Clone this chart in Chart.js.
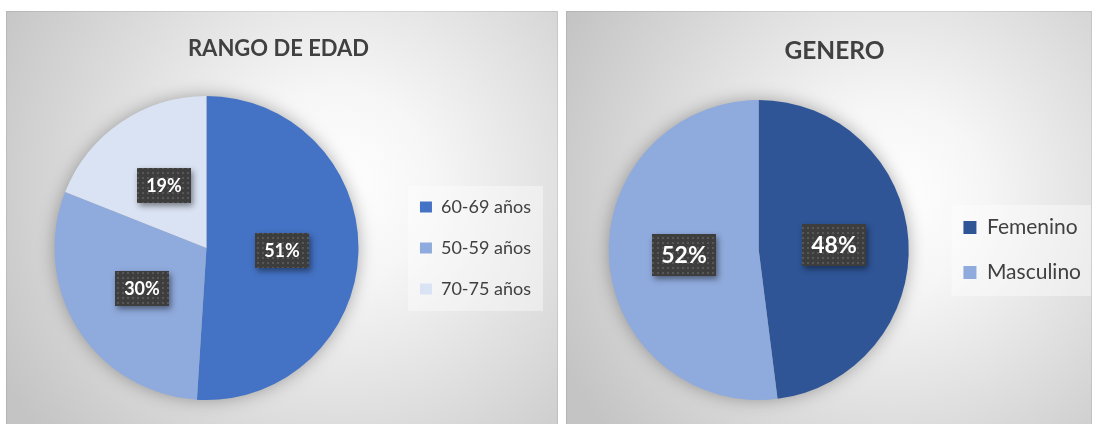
<!DOCTYPE html>
<html><head><meta charset="utf-8">
<script src="https://cdn.jsdelivr.net/npm/chart.js@4"></script>
<style>
html,body{margin:0;padding:0;background:#fff;width:1094px;height:424px;overflow:hidden}
canvas{position:absolute;top:11px;display:block}
#c1{left:6px}
#c2{left:566px}
</style></head><body>
<canvas id="c1" width="552" height="413"></canvas>
<canvas id="c2" width="526" height="413"></canvas>
<script>
// ---- data ----
const ageTitle = 'RANGO DE EDAD';
const ageLabels = ['60-69 años', '50-59 años', '70-75 años'];
const ageValues = [51, 30, 19];
const genderTitle = 'GENERO';
const genderLabels = ['Femenino', 'Masculino'];
const genderValues = [48, 52];

// ---- styles ----
const ageColors = ['#4472C4', '#8FAADC', '#DAE3F3'];
const genderColors = ['#2F5597', '#8FAADC'];
const FONT = 'Lato, "Open Sans", sans-serif';
const TEXT = '#404040';

function makePattern(ctx) {
  const p = document.createElement('canvas');
  p.width = 5; p.height = 5;
  const c = p.getContext('2d');
  c.fillStyle = '#3d3d3d'; c.fillRect(0, 0, 5, 5);
  c.fillStyle = '#575757'; c.fillRect(1, 1, 2, 2);
  return ctx.createPattern(p, 'repeat');
}

const panelPlugin = {
  id: 'panel',
  beforeDraw(chart, args, o) {
    const {ctx, width: W, height: H} = chart;
    ctx.save();
    const cx = W * o.gx, cy = H * o.gy;
    const g = ctx.createRadialGradient(cx, cy, 0, cx, cy, W * 0.7);
    g.addColorStop(0, '#ffffff');
    g.addColorStop(0.25, '#f6f6f6');
    g.addColorStop(1, '#c4c4c4');
    ctx.fillStyle = g;
    ctx.fillRect(0, 0, W, H);
    ctx.strokeStyle = 'rgba(0,0,0,0.08)';
    ctx.lineWidth = 1;
    ctx.strokeRect(0.5, 0.5, W - 1, H + 5);
    // legend backdrop
    const lg = chart.legend;
    if (lg && lg.legendHitBoxes && lg.legendHitBoxes.length) {
      const hb = lg.legendHitBoxes;
      const left = Math.min(...hb.map(h => h.left)) - 12;
      const right = Math.min(W - 1, Math.max(...hb.map(h => h.left + h.width)) + 12);
      const top = hb[0].top - 12;
      const bottom = hb[hb.length - 1].top + hb[hb.length - 1].height + 13;
      ctx.fillStyle = 'rgba(255,255,255,0.4)';
      ctx.fillRect(left, top, right - left, bottom - top);
    }
    ctx.restore();
  },
  beforeDatasetsDraw(chart) {
    const arc = chart.getDatasetMeta(0).data[0];
    if (!arc) return;
    const ctx = chart.ctx;
    ctx.save();
    ctx.shadowColor = 'rgba(0,0,0,0.35)';
    ctx.shadowBlur = 18;
    ctx.fillStyle = '#9a9a9a';
    ctx.beginPath();
    ctx.arc(arc.x, arc.y, arc.outerRadius - 1, 0, Math.PI * 2);
    ctx.fill();
    ctx.restore();
  },
  afterDatasetsDraw(chart, args, o) {
    const ctx = chart.ctx;
    const meta = chart.getDatasetMeta(0);
    const data = chart.data.datasets[0].data;
    const total = data.reduce((a, b) => a + b, 0);
    const pat = makePattern(ctx);
    meta.data.forEach((arc, i) => {
      const p = arc.tooltipPosition();
      const txt = Math.round(data[i] / total * 100) + '%';
      const w = o.boxW, h = o.boxH;
      const x = Math.round(p.x - w / 2), y = Math.round(p.y - h / 2);
      ctx.save();
      ctx.shadowColor = 'rgba(0,0,0,0.45)';
      ctx.shadowBlur = 6;
      ctx.shadowOffsetX = 2;
      ctx.shadowOffsetY = 3;
      ctx.fillStyle = '#3d3d3d';
      ctx.fillRect(x, y, w, h);
      ctx.restore();
      ctx.save();
      ctx.fillStyle = pat;
      ctx.fillRect(x, y, w, h);
      ctx.fillStyle = '#ffffff';
      ctx.font = 'bold ' + o.size + 'px ' + FONT;
      ctx.textAlign = 'center';
      ctx.textBaseline = 'middle';
      ctx.fillText(txt, x + w / 2, y + h / 2 + 1);
      ctx.restore();
    });
  }
};

function makeChart(id, title, labels, values, colors, cfg) {
  return new Chart(document.getElementById(id), {
    type: 'pie',
    data: {
      labels: labels,
      datasets: [{ data: values, backgroundColor: colors, borderWidth: 0, hoverOffset: 0 }]
    },
    options: {
      responsive: false,
      animation: false,
      events: [],
      layout: { padding: cfg.padding },
      plugins: {
        title: {
          display: true, text: title, color: TEXT,
          font: { family: FONT, size: cfg.titleSize, weight: 'bold', lineHeight: 1.2 },
          padding: cfg.titlePad
        },
        legend: {
          display: true, position: 'right', align: 'center', fullSize: false,
          labels: {
            color: TEXT, boxWidth: cfg.boxW, boxHeight: cfg.boxH,
            padding: cfg.legPad,
            font: { family: FONT, size: cfg.legSize }
          }
        },
        tooltip: { enabled: false },
        panel: { gx: cfg.gx, gy: cfg.gy, boxW: cfg.lblW, boxH: cfg.lblH, size: cfg.lblSize }
      }
    },
    plugins: [panelPlugin]
  });
}

makeChart('c1', ageTitle, ageLabels, ageValues, ageColors, {
  padding: { left: 10, right: 17, top: 0, bottom: 24 },
  titleSize: 22, titlePad: { top: 24.3, bottom: 34.3 },
  boxW: 12, boxH: 11, legPad: 23, legSize: 18,
  lblW: 54, lblH: 35, lblSize: 18, gx: 0.6, gy: 0.42
});
makeChart('c2', genderTitle, genderLabels, genderValues, genderColors, {
  padding: { left: 12, right: 1, top: 0, bottom: 24 },
  titleSize: 24.5, titlePad: { top: 25, bottom: 34.6 },
  boxW: 13, boxH: 13, legPad: 24, legSize: 21,
  lblW: 64, lblH: 42, lblSize: 23, gx: 0.62, gy: 0.45
});
</script>
</body></html>
